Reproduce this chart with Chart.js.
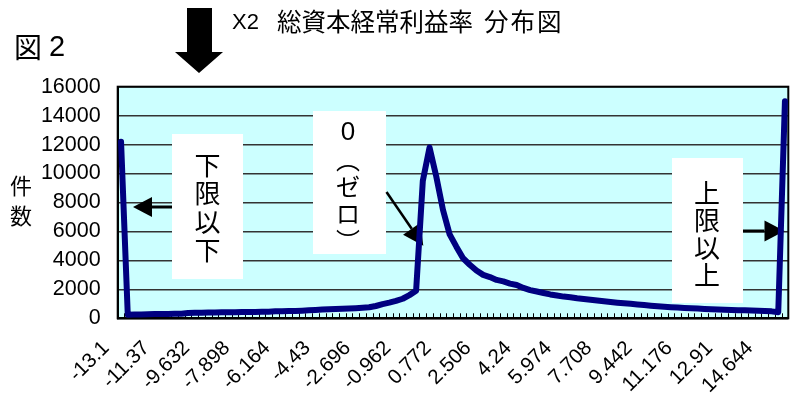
<!DOCTYPE html>
<html>
<head>
<meta charset="utf-8">
<script src="https://cdn.jsdelivr.net/npm/chart.js@4.4.1/dist/chart.umd.min.js"></script>
<style>
  html, body { margin: 0; padding: 0; background: #fff; }
  canvas { display: block; }
</style>
</head>
<body>
<canvas id="chart" width="791" height="394"></canvas>
<script>
// Bins of the ratio: lower bound of the first bin and bin width
const binStart = -13.1;
const binStep = 0.289;
const binCount = 100;
const categories = Array.from({ length: binCount }, (_, i) => +(binStart + i * binStep).toFixed(3));

// Axis labels printed every sixth bin
const tickLabels = ['-13.1', '-11.37', '-9.632', '-7.898', '-6.164', '-4.43', '-2.696', '-0.962',
  '0.772', '2.506', '4.24', '5.974', '7.708', '9.442', '11.176', '12.91', '14.644'];
const labelEvery = 6;

// Number of companies in each bin (first = below lower limit, last = above upper limit)
const counts = [
  12200, 250, 260, 270, 280, 290, 300, 300, 310, 320,
  370, 380, 390, 400, 400, 410, 410, 420, 430, 430,
  440, 450, 460, 480, 490, 500, 510, 530, 550, 570,
  600, 620, 640, 660, 680, 700, 730, 760, 850, 980,
  1080, 1200, 1350, 1600, 1900, 9500, 11800, 9800, 7500, 5800,
  4950, 4150, 3700, 3300, 3000, 2850, 2650, 2550, 2400, 2300,
  2100, 1950, 1850, 1750, 1650, 1580, 1500, 1450, 1380, 1330,
  1280, 1230, 1180, 1130, 1080, 1040, 1000, 960, 920, 870,
  830, 800, 770, 740, 710, 690, 670, 650, 630, 610,
  590, 570, 560, 550, 540, 520, 510, 480, 420, 15000
];

const yTicks = [0, 2000, 4000, 6000, 8000, 10000, 12000, 14000, 16000];

const CJK = '"Noto Sans CJK JP", "Noto Sans", sans-serif';
const LATIN = '"Liberation Sans", Arial, sans-serif';

function drawArrow(ctx, x1, y1, x2, y2, headLen, headW, lw) {
  const ang = Math.atan2(y2 - y1, x2 - x1);
  const bx = x2 - headLen * Math.cos(ang), by = y2 - headLen * Math.sin(ang);
  ctx.lineWidth = lw;
  ctx.beginPath(); ctx.moveTo(x1, y1); ctx.lineTo(bx, by); ctx.stroke();
  ctx.beginPath();
  ctx.moveTo(x2, y2);
  ctx.lineTo(bx + headW / 2 * Math.sin(ang), by - headW / 2 * Math.cos(ang));
  ctx.lineTo(bx - headW / 2 * Math.sin(ang), by + headW / 2 * Math.cos(ang));
  ctx.closePath(); ctx.fill();
}

function verticalText(ctx, chars, x, y0, step, font) {
  ctx.font = font;
  ctx.textAlign = 'center';
  ctx.textBaseline = 'middle';
  chars.forEach((ch, i) => ctx.fillText(ch, x, y0 + i * step));
}

const decor = {
  id: 'decor',
  beforeDraw(chart) {
    const { ctx, chartArea: a } = chart;
    ctx.save();
    ctx.fillStyle = '#fff';
    ctx.fillRect(0, 0, chart.width, chart.height);
    ctx.fillStyle = '#CCFFFF';
    ctx.fillRect(a.left, a.top, a.right - a.left, a.bottom - a.top);
    ctx.restore();
  },
  beforeDatasetsDraw(chart) {
    const { ctx, chartArea: a, scales: { x } } = chart;
    ctx.save();
    // short tick marks on the category boundaries, pointing into the plot
    ctx.strokeStyle = '#000';
    ctx.lineWidth = 1;
    for (let i = 1; i < binCount; i++) {
      const px = Math.round((x.getPixelForValue(i - 1) + x.getPixelForValue(i)) / 2) + 0.5;
      ctx.beginPath(); ctx.moveTo(px, a.bottom); ctx.lineTo(px, a.bottom - 5); ctx.stroke();
    }
    // frame of the plot area
    ctx.lineWidth = 2;
    ctx.strokeRect(a.left, a.top, a.right - a.left, a.bottom - a.top);

    // label boxes
    ctx.fillStyle = '#fff';
    ctx.fillRect(172, 134, 71, 145);
    ctx.fillRect(313, 111, 73, 143);
    ctx.fillRect(672, 158, 71, 145);

    ctx.fillStyle = '#000';
    verticalText(ctx, ['下', '限', '以', '下'], 207.5, 165, 28.5, '26px ' + CJK);
    verticalText(ctx, ['上', '限', '以', '上'], 707, 193, 27.5, '26px ' + CJK);
    ctx.font = '26px ' + LATIN;
    ctx.textAlign = 'center'; ctx.textBaseline = 'middle';
    ctx.fillText('0', 348, 133);
    verticalText(ctx, ['︵', 'ゼ', 'ロ', '︶'], 348, 160, 27, '24px ' + CJK);

    // arrows
    ctx.strokeStyle = '#000';
    ctx.fillStyle = '#000';
    drawArrow(ctx, 172, 207, 133, 207, 19, 20, 3);
    drawArrow(ctx, 386.5, 192, 423.3, 245.7, 20.5, 21, 2.5);
    drawArrow(ctx, 743, 231, 784.5, 231, 20, 21, 3);
    ctx.restore();
  },
  afterDraw(chart) {
    const { ctx } = chart;
    ctx.save();
    ctx.fillStyle = '#000';
    // big arrow above the plot
    ctx.beginPath();
    ctx.moveTo(187, 8); ctx.lineTo(212, 8); ctx.lineTo(212, 52); ctx.lineTo(223, 52);
    ctx.lineTo(199, 73); ctx.lineTo(175, 52); ctx.lineTo(187, 52); ctx.closePath();
    ctx.fill();

    ctx.textBaseline = 'middle';
    ctx.textAlign = 'left';
    ctx.font = '22px ' + LATIN;
    ctx.fillText('X2', 232, 23);
    ctx.font = '24.5px ' + CJK;
    ctx.fillText('総資本経常利益率', 277, 22);
    ctx.letterSpacing = '2px';
    ctx.fillText('分布図', 484, 22);
    ctx.letterSpacing = '0px';

    ctx.font = '28px ' + CJK;
    ctx.fillText('図', 14, 47);
    ctx.font = '29px ' + LATIN;
    ctx.fillText('2', 49, 48);

    verticalText(ctx, ['件', '数'], 21, 186, 30, '22px ' + CJK);
    ctx.restore();
  }
};

new Chart(document.getElementById('chart').getContext('2d'), {
  type: 'line',
  data: {
    labels: categories,
    datasets: [{
      data: counts,
      borderColor: '#000080',
      borderWidth: 6,
      pointRadius: 0,
      tension: 0,
      fill: false,
      borderJoinStyle: 'round',
      borderCapStyle: 'round'
    }]
  },
  options: {
    responsive: false,
    animation: false,
    devicePixelRatio: 1,
    layout: { padding: { left: 0, top: 86.7, right: 2.7, bottom: 0 } },
    plugins: { legend: { display: false }, tooltip: { enabled: false }, title: { display: false } },
    scales: {
      x: {
        type: 'category',
        offset: true,
        grid: { display: false, drawTicks: false },
        border: { display: true, color: '#000', width: 2 },
        ticks: {
          autoSkip: false,
          maxRotation: 45,
          minRotation: 45,
          padding: 18,
          labelOffset: -15,
          color: '#000',
          font: { family: LATIN, size: 20.5 },
          callback: (v, i) => (i % labelEvery === 0 ? tickLabels[i / labelEvery] : '')
        },
        afterFit: s => { s.height = 394 - 318.3; s.paddingLeft = 0; s.paddingRight = 0; }
      },
      y: {
        min: yTicks[0],
        max: yTicks[yTicks.length - 1],
        afterBuildTicks: s => { s.ticks = yTicks.map(v => ({ value: v })); },
        grid: { color: '#333', lineWidth: 1.6, drawTicks: false },
        border: { display: true, color: '#000', width: 2 },
        ticks: { autoSkip: false, padding: 17, color: '#000', font: { family: LATIN, size: 21.5 }, callback: v => String(v) },
        afterFit: s => { s.width = 117.7; s.paddingTop = 0; s.paddingBottom = 0; }
      }
    }
  },
  plugins: [decor]
});
</script>
</body>
</html>
